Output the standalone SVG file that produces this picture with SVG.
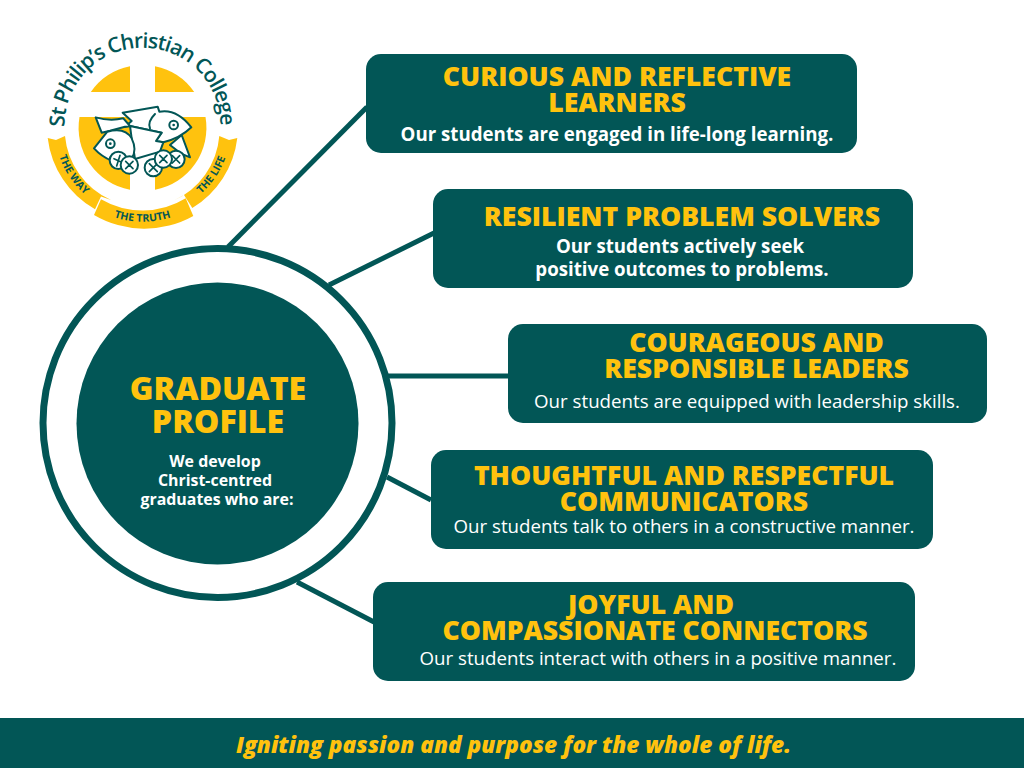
<svg xmlns="http://www.w3.org/2000/svg" width="1024" height="768" viewBox="0 0 1024 768">
<style>
.box{fill:#025656}
.t{font-family:"Open Sans","Liberation Sans",sans-serif;font-weight:800;font-size:26.6px;fill:#ffc20e;text-anchor:middle}
.h{font-size:32.1px}
.s{font-family:"Open Sans","Liberation Sans",sans-serif;font-size:18.7px;fill:#fff;text-anchor:middle}
.sb{font-weight:700}
.hs{font-size:15.9px}
.conn{stroke:#025656;stroke-width:5;fill:none}
.y{fill:#ffc20e}
.f{fill:#fff;stroke:#025656;stroke-width:6;stroke-linejoin:round;stroke-linecap:round}
.x{fill:none;stroke:#025656;stroke-width:5;stroke-linecap:round}
.b{font-family:"Open Sans","Liberation Sans",sans-serif;font-weight:700;font-size:10.5px;fill:#025656}
</style>
<defs>
<path id="arcTop" d="M64.500 127A78 78 0 1 1 220.500 124.500A78 78 0 0 1 210 163"/>
<path id="arcWay" d="M55.600 141.800A88 88 0 0 0 97.200 203.400"/>
<path id="arcTruth" d="M85 202A94 94 0 0 0 200 202"/>
<path id="arcLife" d="M187.800 203.400A88 88 0 0 0 229.400 141.800"/>
</defs>
<rect width="1024" height="768" fill="#fff"/>
<g id="connectors">
<path class="conn" d="M228 247L367 107"/>
<path class="conn" d="M329 285L434 233"/>
<path class="conn" d="M388 376H508"/>
<path class="conn" d="M387 477L431 500"/>
<path class="conn" d="M297 582L374 622"/>
</g>
<g id="logo">
<path class="y" d="M90.800 92H130V66.300A63 63 0 0 0 90.800 92Z"/>
<path class="y" d="M194.200 92H155V66.300A63 63 0 0 1 194.200 92Z"/>
<path class="y" d="M79.500 117H130V189.700A63 63 0 0 1 79.500 117Z"/>
<path class="y" d="M205.500 117H155V189.700A63 63 0 0 0 205.500 117Z"/>
<path class="y" d="M47.700 138L56 140L65 136A78 78 0 0 0 111 200L101 196.500L95 209.300A95 95 0 0 1 47.700 138Z"/>
<path class="y" d="M237.300 138L229 140L219.300 136A78 78 0 0 1 173.300 200.700L184 195L192.300 208A95 95 0 0 0 237.300 138Z"/>
<path class="y" d="M101 199.300A82.500 82.500 0 0 0 185.700 198.300L193.300 216A100 100 0 0 1 94 215Z"/>
<g id="fish" transform="translate(30 10) scale(.33333)">
<path class="f" d="M455 375L480 442L452 430L420 405Z"/>
<path class="f" d="M278 308L383 290L388 305Q440 295 484 352Q450 385 400 397L378 393L395 368L300 348L285 350L305 333Z"/>
<path class="f" d="M375 312Q352 335 360 355" fill="none"/>
<path class="f" d="M300 348L395 368L378 393L400 397L390 425L315 447L305 385Z"/>
<path class="f" d="M197 322Q240 335 280 325L300 348L285 350L240 362L215 368Z"/>
<path class="f" d="M192 415L232 365Q285 350 305 385Q322 420 305 445L245 452Q215 440 192 415Z"/>
<circle class="f" cx="241" cy="401" r="13"/><circle cx="241" cy="401" r="4" fill="#025656"/>
<circle class="f" cx="431" cy="345" r="13"/><circle cx="431" cy="345" r="4" fill="#025656"/>
<circle class="f" cx="265" cy="451" r="26"/><path class="x" d="M252 446L278 458M270 436L260 468"/>
<circle class="f" cx="298" cy="465" r="26"/><path class="x" d="M287 454L309 476M309 454L287 476"/>
<circle class="f" cx="370" cy="473" r="26"/><path class="x" d="M358 461L382 485M382 461L358 485"/>
<circle class="f" cx="438" cy="448" r="26"/><path class="x" d="M427 437L449 459M449 437L427 459"/>
<circle class="f" cx="400" cy="447" r="26"/><path class="x" d="M389 436L411 458M411 436L389 458"/>
</g>
<text font-family="Open Sans,Liberation Sans,sans-serif" font-size="21px" font-weight="600" fill="#025656"><textPath href="#arcTop" textLength="246" lengthAdjust="spacing">St Philip’s Christian College</textPath></text>
<text class="b"><textPath href="#arcWay" startOffset="50%" text-anchor="middle">THE WAY</textPath></text>
<text class="b"><textPath href="#arcTruth" startOffset="50%" text-anchor="middle">THE TRUTH</textPath></text>
<text class="b"><textPath href="#arcLife" startOffset="50%" text-anchor="middle">THE LIFE</textPath></text>
</g>
<g id="hub">
<circle cx="217.500" cy="423" r="174.500" fill="#fff" stroke="#025656" stroke-width="7"/>
<circle cx="217.500" cy="423.500" r="141" fill="#025656"/>
<text class="t h" x="218" y="400">GRADUATE</text>
<text class="t h" x="218" y="433">PROFILE</text>
<text class="s sb hs" x="215" y="467">We develop</text>
<text class="s sb hs" x="215" y="486">Christ-centred</text>
<text class="s sb hs" x="217" y="505">graduates who are:</text>
</g>
<g id="node1">
<rect class="box" x="366" y="54" width="491" height="99" rx="15"/>
<text class="t" x="617" y="86">CURIOUS AND REFLECTIVE</text>
<text class="t" x="617" y="112">LEARNERS</text>
<text class="s sb" x="617" y="141">Our students are engaged in life-long learning.</text>
</g>
<g id="node2">
<rect class="box" x="433" y="189" width="480" height="99" rx="15"/>
<text class="t" x="682" y="226">RESILIENT PROBLEM SOLVERS</text>
<text class="s sb" x="680" y="253">Our students actively seek</text>
<text class="s sb" x="682" y="276">positive outcomes to problems.</text>
</g>
<g id="node3">
<rect class="box" x="508" y="324" width="479" height="99" rx="15"/>
<text class="t" x="756.500" y="352">COURAGEOUS AND</text>
<text class="t" x="756.500" y="378">RESPONSIBLE LEADERS</text>
<text class="s" x="747" y="408">Our students are equipped with leadership skills.</text>
</g>
<g id="node4">
<rect class="box" x="431" y="450" width="502" height="99" rx="15"/>
<text class="t" x="684" y="485">THOUGHTFUL AND RESPECTFUL</text>
<text class="t" x="684" y="511">COMMUNICATORS</text>
<text class="s" x="684" y="533">Our students talk to others in a constructive manner.</text>
</g>
<g id="node5">
<rect class="box" x="373" y="582" width="542" height="99" rx="15"/>
<text class="t" x="651" y="614">JOYFUL AND</text>
<text class="t" x="655" y="640">COMPASSIONATE CONNECTORS</text>
<text class="s" x="658" y="665">Our students interact with others in a positive manner.</text>
</g>
<g id="footer">
<rect class="box" y="718" width="1024" height="50"/>
<text x="513.500" y="753" style="font-family:'Open Sans','Liberation Sans',sans-serif;font-weight:800;font-style:italic;font-size:22.650px;fill:#ffc20e;text-anchor:middle">Igniting passion and purpose for the whole of life.</text>
</g>
</svg>
